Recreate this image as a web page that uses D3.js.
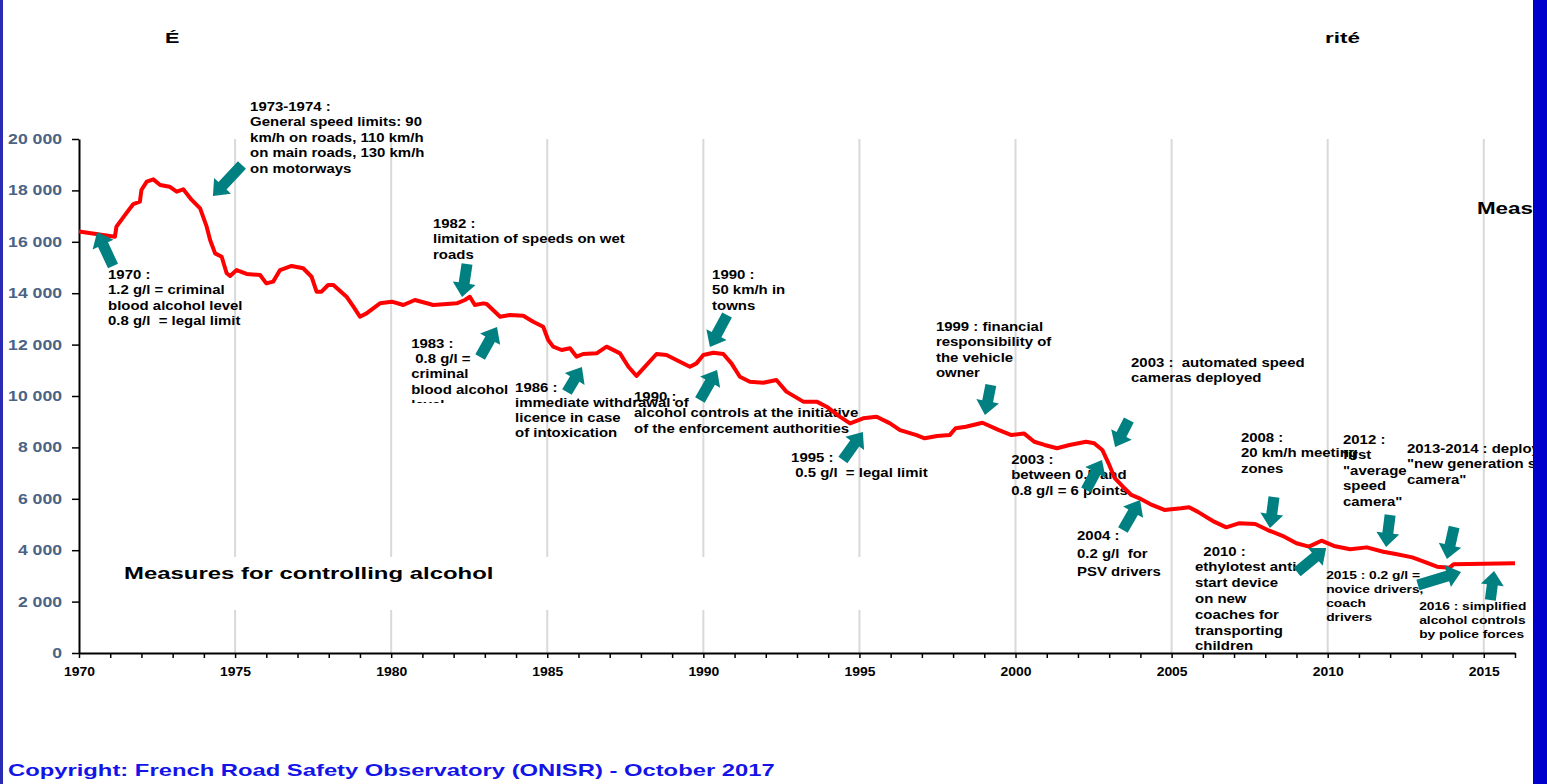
<!DOCTYPE html>
<meta charset="utf-8">
<head>
<style>
body { margin: 0; background: #fff; }
svg { display: block; font-family: "Liberation Sans", Arial, sans-serif; font-weight: bold; }
</style>
</head>
<body>
<svg width="1547" height="784"></svg>
<script src="https://d3js.org/d3.v7.min.js"></script>
<script>
// people killed on the roads, rolling 12 months
var years = [1970, 1971.15, 1971.2, 1971.47, 1971.74, 1971.95, 1972, 1972.17, 1972.38, 1972.6, 1972.9,
  1973.13, 1973.34, 1973.61, 1973.88, 1974.09, 1974.2, 1974.36, 1974.57, 1974.73, 1974.84,
  1975.05, 1975.37, 1975.8, 1976, 1976.22, 1976.44, 1976.81, 1977.18, 1977.45, 1977.61, 1977.77, 1977.98,
  1978.15, 1978.57, 1978.79, 1979, 1979.21, 1979.64, 1980.02, 1980.39, 1980.76, 1981.35, 1982.1, 1982.36,
  1982.52, 1982.68, 1982.95, 1983.06, 1983.49, 1983.8, 1984.23, 1984.55, 1984.87, 1985.03, 1985.19, 1985.46,
  1985.73, 1985.94, 1986.15, 1986.58, 1986.9, 1987.33, 1987.6, 1987.86, 1988.08, 1988.5, 1988.82, 1989.25,
  1989.57, 1989.78, 1990, 1990.32, 1990.64, 1990.9, 1991.17, 1991.49, 1991.92, 1992.34, 1992.66, 1993.2,
  1993.63, 1993.95, 1994.37, 1994.7, 1995.12, 1995.55, 1995.98, 1996.3, 1996.83, 1997.09, 1997.49, 1997.89,
  1998.08, 1998.41, 1998.94, 1999.47, 1999.87, 2000.27, 2000.6, 2000.93, 2001.33, 2001.73, 2002.26, 2002.52,
  2002.78, 2002.98, 2003.18, 2003.44, 2003.71, 2003.97, 2004.37, 2004.77, 2005.3, 2005.56, 2005.83, 2006.36,
  2006.75, 2007.15, 2007.68, 2008.08, 2008.61, 2009, 2009.4, 2009.8, 2010.2, 2010.72, 2011.25, 2011.78,
  2012.18, 2012.71, 2013.1, 2013.5, 2013.9, 2014.03, 2015, 2016];
var deaths = [16400, 16200, 16590, 17040, 17470, 17560, 18015, 18340, 18430, 18210, 18145,
  17950, 18040, 17630, 17300, 16590, 16070, 15550, 15420, 14775, 14670,
  14900, 14750, 14710, 14380, 14450, 14900, 15060, 14970, 14640, 14060, 14060, 14320,
  14320, 13865, 13475, 13085, 13215, 13605, 13670, 13540, 13735, 13540, 13605, 13735,
  13860, 13540, 13605, 13580, 13085, 13150, 13125, 12890, 12696, 12180, 11920, 11790,
  11855, 11530, 11635, 11660, 11920, 11660, 11140, 10780, 11075, 11635, 11595, 11335,
  11140, 11270, 11595, 11685, 11635, 11270, 10750, 10555, 10515, 10620, 10170, 9780,
  9780, 9585, 9195, 8935, 9130, 9195, 8935, 8675, 8480, 8355, 8445, 8480,
  8745, 8805, 8960, 8675, 8480, 8545, 8220, 8095, 7965, 8095, 8220, 8160,
  7900, 7380, 6800, 6470, 6150, 6020, 5760, 5565, 5630, 5670, 5500, 5110,
  4890, 5045, 5020, 4785, 4525, 4270, 4140, 4370, 4165, 4035, 4110, 3940,
  3850, 3720, 3550, 3360, 3320, 3450, 3470, 3490];

var yTicks = [0, 2000, 4000, 6000, 8000, 10000, 12000, 14000, 16000, 18000, 20000];
var xLabels = [1970, 1975, 1980, 1985, 1990, 1995, 2000, 2005, 2010, 2015];

// measures, one entry per note
var notes = [
  ["1970 :", "1.2 g/l = criminal", "blood alcohol level", "0.8 g/l  = legal limit"],
  ["1973-1974 :", "General speed limits: 90", "km/h on roads, 110 km/h", "on main roads, 130 km/h", "on motorways"],
  ["1982 :", "limitation of speeds on wet", "roads"],
  ["1983 :", " 0.8 g/l =", "criminal", "blood alcohol", "level"],
  ["1986 :", "immediate withdrawal of", "licence in case", "of intoxication"],
  ["1990 :", "alcohol controls at the initiative", "of the enforcement authorities"],
  ["1990 :", "50 km/h in", "towns"],
  ["1995 :", " 0.5 g/l  = legal limit"],
  ["1999 : financial", "responsibility of", "the vehicle", "owner"],
  ["2003 :  automated speed", "cameras deployed"],
  ["2003 :", "between 0.5 and", "0.8 g/l = 6 points"],
  ["2004 :", "0.2 g/l  for", "PSV drivers"],
  ["  2010 :", "ethylotest anti-", "start device", "on new", "coaches for", "transporting", "children"],
  ["2008 :", "20 km/h meeting", "zones"],
  ["2012 :", "first", "\"average", "speed", "camera\""],
  ["2013-2014 : deployment of", "\"new generation speed", "camera\""],
  ["2015 : 0.2 g/l =", "novice drivers,", "coach", "drivers"],
  ["2016 : simplified", "alcohol controls", "by police forces"]
];
// where each note sits, in chart units: [year, value of first line centre, line step px, font px]
var noteAt = [
  [1970.93, 14747, 15.6, 13], [1975.48, 21284, 15.5, 13], [1981.34, 16732, 15.5, 13],
  [1980.64, 12062, 15.3, 13], [1983.97, 10350, 15, 13], [1987.78, 10000, 16, 13],
  [1990.28, 14747, 15.5, 13], [1992.81, 7627, 15.5, 13], [1997.45, 12724, 15.5, 13],
  [2003.70, 11323, 15, 13], [1999.86, 7549, 15.5, 13], [2001.97, 4591, 18, 13],
  [2005.75, 3969, 15.8, 13], [2007.22, 8405, 15.5, 13], [2010.49, 8327, 15.5, 13],
  [2012.54, 7977, 15.5, 13], [2009.95, 3035, 14, 11.5], [2012.93, 1829, 14, 11.5]
];
// arrows: tip year, tip value, tail year, tail value
var arrows = [
  [1970.58, 16381, 1971.09, 15058], [1974.29, 17782, 1975.22, 18989], [1982.27, 13852, 1982.43, 15136],
  [1983.39, 12685, 1982.85, 11518], [1986.11, 11129, 1985.63, 10156], [1990.21, 11907, 1990.76, 13152],
  [1990.44, 11012, 1989.89, 9844], [1995.11, 8599, 1994.47, 7510], [1999.02, 9261, 1999.21, 10428],
  [2003.19, 8016, 2003.63, 9066], [2002.77, 7510, 2002.26, 6342], [2003.99, 5953, 2003.44, 4786],
  [2008.15, 4864, 2008.28, 6070], [2009.95, 4086, 2009.02, 3152], [2011.87, 4125, 2012.00, 5370],
  [2013.82, 3658, 2014.05, 4903], [2014.27, 3152, 2012.89, 2646], [2015.33, 3191, 2015.21, 2062]
];

var svg = d3.select("svg"),
    W = 1547, H = 784,
    margin = {top: 139, right: 32, bottom: 131, left: 79},
    width = W - margin.left - margin.right,
    height = H - margin.top - margin.bottom;

var x = d3.scaleLinear().domain([1970, 2016]).range([margin.left, margin.left + width]),
    y = d3.scaleLinear().domain([0, 20000]).range([margin.top + height, margin.top]);

svg.append("rect").attr("width", W).attr("height", H).attr("fill", "#fff");

// stretched text, like the original picture
function label(parent, px, py, lines, size, sx, step) {
  var g = parent.append("g").attr("transform", "translate(" + px + "," + py + ") scale(" + sx + ",1)");
  var t = g.append("text").attr("font-size", size).attr("fill", "#000").style("white-space", "pre");
  lines.forEach(function(l, i) {
    t.append("tspan").attr("x", 0).attr("y", i * step).attr("dy", "0.36em").text(l);
  });
  return g;
}

// grid
svg.append("g").selectAll("line").data(xLabels.slice(1)).join("line")
    .attr("x1", function(d) { return x(d); }).attr("x2", function(d) { return x(d); })
    .attr("y1", y(20000)).attr("y2", y(0))
    .attr("stroke", "#d9d9d9").attr("stroke-width", 2);

// white box behind the alcohol heading
svg.append("rect")
    .attr("x", x(1970) + 2).attr("y", y(3735))
    .attr("width", x(1997.5) - x(1970)).attr("height", y(1673) - y(3735))
    .attr("fill", "#fff");

// notes
var noteG = svg.append("g");
notes.forEach(function(n, i) {
  var a = noteAt[i];
  var g = label(noteG, x(a[0]), y(a[1]), n, a[3], a[3] < 12 ? 1.2 : 1.15, a[2]);
  if (i == 3) {
    // the last line of this note is half hidden in the original
    g.append("clipPath").attr("id", "cut83").append("rect")
        .attr("x", -10).attr("y", -20).attr("width", 200).attr("height", y(9728) - y(a[1]) + 20);
    g.select("text").attr("clip-path", "url(#cut83)");
  }
});

// axes
var yAxis = svg.append("g")
    .attr("transform", "translate(" + margin.left + ",0)")
    .call(d3.axisLeft(y).tickValues(yTicks).tickSize(7).tickSizeOuter(0)
      .tickFormat(function(d) { return d3.format(",")(d).replace(",", " "); }));
yAxis.select(".domain").attr("stroke", "#000").attr("stroke-width", 2);
yAxis.selectAll(".tick line").attr("stroke", "#000").attr("stroke-width", 1.5);
yAxis.selectAll("text").attr("x", -13.5).attr("transform", "scale(1.26,1)")
    .attr("font-size", 14).attr("font-family", "Liberation Sans, Arial, sans-serif")
    .attr("font-weight", "bold").attr("fill", "#4b6384");

var xAxis = svg.append("g")
    .attr("transform", "translate(0," + y(0) + ")")
    .call(d3.axisBottom(x).tickValues(d3.range(1970, 2017)).tickSize(5).tickSizeOuter(0).tickPadding(9)
      .tickFormat(function(d) { return d % 5 == 0 ? d : ""; }));
xAxis.select(".domain").attr("stroke", "#000").attr("stroke-width", 2);
xAxis.selectAll(".tick line").attr("stroke", "#000").attr("stroke-width", 1.5);
xAxis.selectAll("text").attr("transform", "scale(1.16,1)")
    .attr("font-size", 12).attr("font-family", "Liberation Sans, Arial, sans-serif")
    .attr("font-weight", "bold").attr("fill", "#000");

// deaths line
var line = d3.line()
    .x(function(d, i) { return x(years[i]); })
    .y(function(d) { return y(d); });
svg.append("path")
    .attr("d", line(deaths))
    .attr("fill", "none")
    .attr("stroke", "#ff0000")
    .attr("stroke-width", 4)
    .attr("stroke-linejoin", "round");

// arrows
function arrowPath(x0, y0, x1, y1) {
  var dx = x1 - x0, dy = y1 - y0, L = Math.hypot(dx, dy),
      ux = dx / L, uy = dy / L, px = -uy, py = ux,
      hw = 5.5, hh = 11.5, hl = 14,
      bx = x1 - ux * hl, by = y1 - uy * hl;
  var pts = [[x0 + px * hw, y0 + py * hw], [bx + px * hw, by + py * hw], [bx + px * hh, by + py * hh],
    [x1, y1], [bx - px * hh, by - py * hh], [bx - px * hw, by - py * hw], [x0 - px * hw, y0 - py * hw]];
  return "M" + pts.join("L") + "Z";
}
svg.append("g").selectAll("path").data(arrows).join("path")
    .attr("d", function(d) { return arrowPath(x(d[2]), y(d[3]), x(d[0]), y(d[1])); })
    .attr("fill", "#008080");

// headings
label(svg, x(1971.44), y(3113), ["Measures for controlling alcohol"], 16.5, 1.45, 0);
label(svg, x(2014.78), y(17315), ["Measures for controlling speed"], 16, 1.4, 0);
label(svg, 165, 37, ["É"], 15.5, 1.4, 0);
label(svg, 1325, 37, ["rité"], 15.5, 1.45, 0);
label(svg, 8, 770, ["Copyright: French Road Safety Observatory (ONISR) - October 2017"], 17, 1.4, 0)
    .select("text").attr("fill", "#1414e6");

// frame
svg.append("rect").attr("x", 0).attr("y", 0).attr("width", 3).attr("height", H).attr("fill", "#2a2ab4");
svg.append("rect").attr("x", 1533).attr("y", 0).attr("width", 14).attr("height", H).attr("fill", "#0000cc");
</script>
</body>
